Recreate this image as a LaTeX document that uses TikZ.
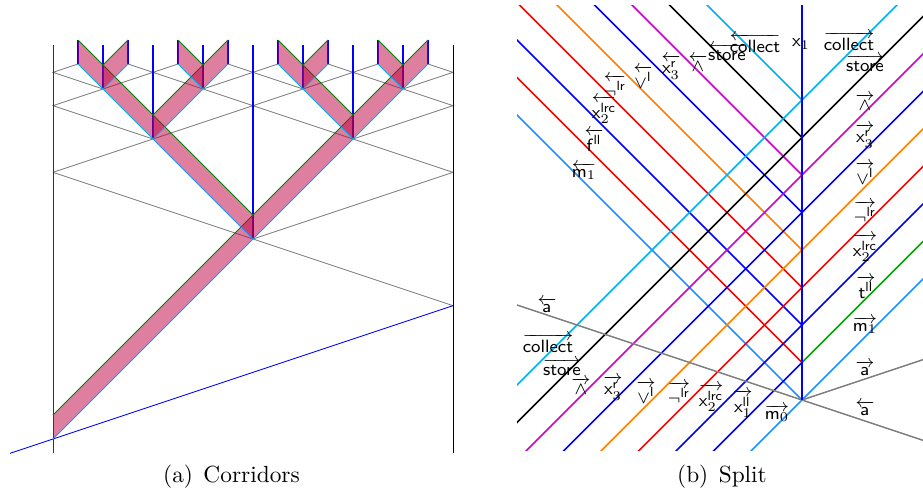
\documentclass[tikz,border=0pt]{standalone}
\usepackage{amsmath}
\definecolor{skyc}{RGB}{0,176,240}
\definecolor{mc}{RGB}{30,144,255}
\definecolor{magc}{RGB}{204,0,204}
\newcommand{\lsig}[1]{$\overleftarrow{#1}$}
\newcommand{\rsig}[1]{$\overrightarrow{#1}$}
% corridor: start, direction, length, colour of lower edge
\newcommand{\corridor}[4]{%
  \fill[band] #1 -- ++({(#2)*#3},-#3) -- ++(0,-24) -- ++({-(#2)*#3},#3) -- cycle;
  \draw[#4] #1 -- ++({(#2)*#3},-#3);
  \draw[green!50!black] #1 ++(0,-24) -- ++({(#2)*#3},-#3);}
\begin{document}
\begin{tikzpicture}[x=0.45pt,y=-0.45pt,
  band/.style={fill=purple,fill opacity=0.5},
  grid/.style={gray},
  sig/.style={line width=0.7pt},
  lbl/.style={font=\footnotesize,inner sep=0pt}]
\useasboundingbox (0,0) rectangle (923,493);
% (a)
\coordinate (T) at (53,439);
\coordinate (R) at (253,239);
\coordinate (L1) at (153,139);
\coordinate (R1) at (353,139);
\coordinate (G1) at (103,89);
\coordinate (G2) at (203,89);
\coordinate (G3) at (303,89);
\coordinate (G4) at (403,89);
\draw[grid] (53,172.33) -- (R) -- (453,305.67);
\draw[grid] (453,172.33) -- (R);
\draw[grid] (53,172.33) -- (L1) -- (53,105.67) -- (G1) -- (53,72.33) -- (78,64);
\draw[grid] (453,172.33) -- (R1) -- (453,105.67) -- (G4) -- (453,72.33) -- (428,64);
\draw[grid] (L1) -- (G3) (R1) -- (G2);
\draw[grid] (G1) -- (178,64) (G2) -- (128,64) (G2) -- (278,64);
\draw[grid] (G3) -- (228,64) (G3) -- (378,64) (G4) -- (328,64);
\draw[black!80] (53,45) -- (53,453);
\draw (453,45) -- (453,453);
\draw[blue] (10,453.33) -- (T) -- (453,305.67);
\foreach \x/\y in {253/239,153/139,353/139,103/89,203/89,303/89,403/89}
  \draw[blue,line width=0.5pt] (\x,\y) -- (\x,45);
\foreach \x in {78,128,...,428}
  \draw[blue,line width=0.5pt] (\x,40) -- (\x,64);
\corridor{(T)}{1}{200}{mc}
\corridor{(R)}{1}{100}{mc}
\corridor{(R)}{-1}{100}{mc}
\corridor{(R1)}{1}{50}{cyan}
\corridor{(R1)}{-1}{50}{cyan}
\corridor{(L1)}{1}{50}{cyan}
\corridor{(L1)}{-1}{50}{cyan}
\foreach \g in {G1,G2,G3,G4}{
  \corridor{(\g)}{1}{25}{cyan}
  \corridor{(\g)}{-1}{25}{cyan}}
\node[anchor=base,font=\fontsize{10.5}{12.6}\selectfont] (capa) at (231.5,482) {(a)\hspace{0.45em}Corridors};
% (b)
\begin{scope}
\clip (517,5) rectangle (923,450);
\coordinate (O) at (802,400);
\foreach \k/\cl/\cr/\cb in {0/mc/mc/mc, 1/blue/green!65!black/red, 2/blue/blue/blue,
    3/red/red/red, 4/orange/orange/orange, 5/blue/blue/blue,
    6/magc/magc/magc, 7/black/black/black, 8/skyc/skyc/skyc}{
  \coordinate (p) at (802,400-37.5*\k);
  \draw[sig,\cb] (p) -- ++(-400,-400);
  \draw[sig,\cl] (p) -- ++(-300,300);
  \draw[sig,\cr] (p) -- ++(300,-300);}
\draw[sig,gray] (O) -- ++(-300,-100);
\draw[sig,gray] (O) -- ++(300,100);
\draw[sig,gray] (O) -- ++(300,-100);
\draw[sig,blue] (O) -- (802,5);
\end{scope}
\node[lbl] (lcollect) at (755,43) {\lsig{\mathsf{collect}}};
\node[lbl] (x1) at (801,44) {$\mathsf{x}_1$};
\node[lbl] (rcollect) at (849,41) {\rsig{\mathsf{collect}}};
\node[lbl] (lstore) at (727,52) {\lsig{\mathsf{store}}};
\node[lbl] (rstore) at (865,63) {\rsig{\mathsf{store}}};
\node[lbl] (lwedge) at (698,63) {\lsig{\wedge}};
\node[lbl] (lx3) at (671,67) {\lsig{\mathsf{x}_3^{\mathsf{r}}}};
\node[lbl] (lvee) at (643,77) {\lsig{\vee^{\mathsf{l}}}};
\node[lbl] (lneg) at (615,86) {\lsig{\neg^{\mathsf{lr}}}};
\node[lbl] (lx2) at (604,110) {\lsig{\mathsf{x}_2^{\mathsf{lrc}}}};
\node[lbl] (lf) at (594,140) {\lsig{\mathsf{f}^{\mathsf{ll}}}};
\node[lbl] (lm1) at (584,171) {\lsig{\mathsf{m}_1}};
\node[lbl] (rwedge) at (865,102) {\rsig{\wedge}};
\node[lbl] (rx3) at (865,136) {\rsig{\mathsf{x}_3^{\mathsf{r}}}};
\node[lbl] (rvee) at (865,173) {\rsig{\vee^{\mathsf{l}}}};
\node[lbl] (rneg) at (865,212) {\rsig{\neg^{\mathsf{lr}}}};
\node[lbl] (rx2) at (865,248) {\rsig{\mathsf{x}_2^{\mathsf{lrc}}}};
\node[lbl] (rt) at (866,287) {\rsig{\mathsf{t}^{\mathsf{ll}}}};
\node[lbl] (rm1) at (865,325) {\rsig{\mathsf{m}_1}};
\node[lbl] (ra) at (865,368) {\rsig{\mathsf{a}}};
\node[lbl] (la) at (865,408) {\lsig{\mathsf{a}}};
\node[lbl] (lab) at (547,305) {\lsig{\mathsf{a}}};
\node[lbl] (bcollect) at (548,343) {\rsig{\mathsf{collect}}};
\node[lbl] (bstore) at (562,367) {\rsig{\mathsf{store}}};
\node[lbl] (bwedge) at (581,386) {\rsig{\wedge}};
\node[lbl] (bx3) at (613,388) {\rsig{\mathsf{x}_3^{\mathsf{r}}}};
\node[lbl] (bvee) at (646,392) {\rsig{\vee^{\mathsf{l}}}};
\node[lbl] (bneg) at (679,393) {\rsig{\neg^{\mathsf{lr}}}};
\node[lbl] (bx2) at (711,398) {\rsig{\mathsf{x}_2^{\mathsf{lrc}}}};
\node[lbl] (bx1) at (743,404) {\rsig{\mathsf{x}_1^{\mathsf{ll}}}};
\node[lbl] (bm0) at (777,413) {\rsig{\mathsf{m}_0}};
\node[anchor=base,font=\fontsize{10.5}{12.6}\selectfont] (capb) at (722,482) {(b)\hspace{0.45em}Split};
\end{tikzpicture}
\end{document}
